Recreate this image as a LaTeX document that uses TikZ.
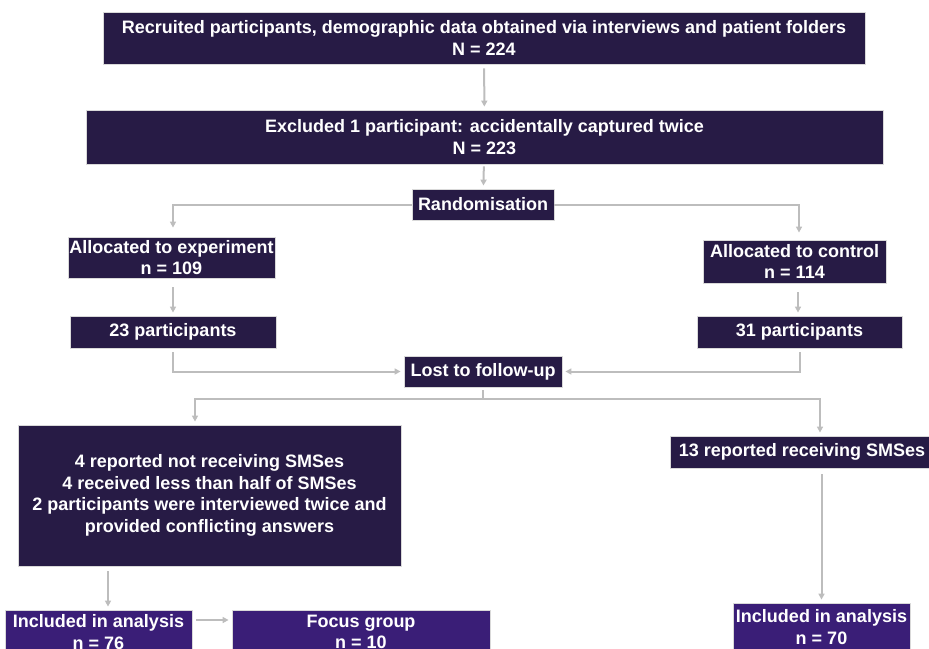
\documentclass[tikz,border=0pt]{standalone}
\usepackage{fontspec}
\setmainfont{Liberation Sans}
\usetikzlibrary{arrows.meta}

\definecolor{boxdark}{HTML}{271B45}
\definecolor{boxviolet}{HTML}{3A1E77}
\definecolor{linegray}{HTML}{BDBDBD}

\tikzset{
  stage/.style={draw=gray!30, line width=0.8pt, fill=boxdark, text=white, align=center,
    inner sep=0pt, font=\fontsize{18}{21.5}\selectfont\bfseries},
  result/.style={stage, fill=boxviolet},
}

\begin{document}
\begin{tikzpicture}[x=1pt, y=-1pt, >={Triangle[length=6pt, width=6pt]}]

\useasboundingbox (0,0) rectangle (929,648);
\clip (0,0) rectangle (929,648);

\node[stage, minimum width=762pt, minimum height=52pt] (recruit) at (484, 38)
  {Recruited participants, demographic data obtained via interviews and patient folders\\ N = 224};
\node[stage, minimum width=797pt, minimum height=54pt] (exclude) at (484.5, 137)
  {Excluded 1 participant: accidentally captured twice\\ N = 223};
\node[stage, minimum width=142pt, minimum height=31pt] (random) at (483, 204.5) {Randomisation};

\node[stage, minimum width=207pt, minimum height=41pt] (allocexp) at (171.5, 257.5)
  {Allocated to experiment\\ n = 109};
\node[stage, minimum width=183pt, minimum height=43pt] (allocctl) at (794.5, 261.5)
  {Allocated to control\\ n = 114};

\node[stage, minimum width=206pt, minimum height=32pt] (lostexp) at (173, 332) {23 participants};
\node[stage, minimum width=205pt, minimum height=32pt] (lostctl) at (799.5, 332) {31 participants};
\node[stage, minimum width=158pt, minimum height=31pt] (lost) at (483, 371.5) {Lost to follow-up};

\node[stage, minimum width=383pt, minimum height=141pt] (reasons) at (209.5, 495.5)
  {4 reported not receiving SMSes\\ 4 received less than half of SMSes\\
   2 participants were interviewed twice and\\ provided conflicting answers};
\node[stage, minimum width=264pt, minimum height=32pt] (received) at (802, 452)
  {13 reported receiving SMSes};

\node[result, minimum width=187pt, minimum height=44pt] (inclexp) at (98.5, 632)
  {Included in analysis\\ n = 76};
\node[result, minimum width=258pt, minimum height=44pt] (focus) at (361, 632)
  {Focus group\\ n = 10};
\node[result, minimum width=177pt, minimum height=48pt] (inclctl) at (821.5, 627)
  {Included in analysis\\ n = 70};

\coordinate (split) at (483, 399);

\begin{scope}[draw=linegray, line width=2pt, shorten >=3pt]
\draw[->, shorten <=4pt] (recruit) -- (exclude);
\draw[->, shorten <=2pt] (exclude) -- (random);
\draw[->, shorten >=9pt] (random.west) -| ([xshift=1.5pt]allocexp.north);
\draw[->, shorten >=7pt] (random.east) -| ([xshift=4.5pt]allocctl.north);
\draw[->, shorten <=9pt] ([xshift=1.5pt]allocexp.south) -- ([xshift=1.5pt]allocexp.south |- lostexp.north);
\draw[->, shorten <=9pt] ([xshift=-1.5pt]lostctl.north |- allocctl.south) -- ([xshift=-1.5pt]lostctl.north);
\draw[->, shorten <=4pt] (lostexp.south) |- (lost.west);
\draw[->, shorten <=4pt] (lostctl.south) |- (lost.east);
\draw[shorten >=0pt, shorten <=3pt] (lost.south) -- (split);
\draw[->] (split) -| ([xshift=-14.5pt]reasons.north);
\draw[->] (split) -| ([xshift=18pt]received.north);
\draw[->, shorten <=5pt] ([xshift=9.5pt]inclexp.north |- reasons.south) -- ([xshift=9.5pt]inclexp.north);
\draw[->, shorten <=6pt] (inclctl.north |- received.south) -- (inclctl.north);
\draw[->, shorten <=4pt] ([yshift=12pt]inclexp.east) -- ([yshift=12pt]focus.west);
\end{scope}

\end{tikzpicture}
\end{document}
